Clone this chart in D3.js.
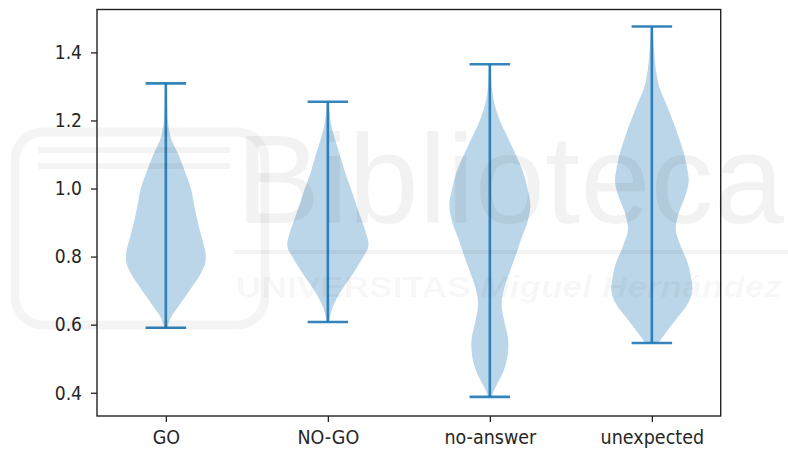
<!DOCTYPE html>
<html>
<head>
<meta charset="utf-8">
<script src="https://cdn.jsdelivr.net/npm/d3@7"></script>
<style>
  html, body { margin: 0; padding: 0; background: #ffffff; }
  svg { display: block; }
</style>
</head>
<body>
<svg id="chart" width="788" height="452"></svg>
<script>
// ---------------- data ----------------
const categories = ["GO", "NO-GO", "no-answer", "unexpected"];
const positions = [1, 2, 3, 4];
const yTicks = [0.4, 0.6, 0.8, 1.0, 1.2, 1.4];
const yTickLabels = ["0.4", "0.6", "0.8", "1.0", "1.2", "1.4"];
const minValues = [0.591, 0.608, 0.388, 0.546];
const maxValues = [1.309, 1.255, 1.365, 1.476];

// density profiles: [value, relative density (1 = widest)]
const goProfile = [
  [1.309, 0.02], [1.25, 0.03], [1.20, 0.05], [1.15, 0.12], [1.10, 0.31],
  [1.05, 0.47], [1.00, 0.62], [0.95, 0.70], [0.90, 0.79], [0.85, 0.90],
  [0.81, 0.98], [0.78, 0.97], [0.75, 0.86], [0.71, 0.64], [0.66, 0.35],
  [0.62, 0.12], [0.591, 0.04]
];
const noGoProfile = [
  [1.255, 0.02], [1.19, 0.08], [1.143, 0.18], [1.094, 0.31], [1.045, 0.43],
  [0.996, 0.58], [0.946, 0.72], [0.898, 0.86], [0.858, 0.97], [0.83, 1.0],
  [0.80, 0.88], [0.75, 0.62], [0.70, 0.33], [0.652, 0.12], [0.608, 0.03]
];
const noAnswerProfile = [
  [1.365, 0.02], [1.295, 0.05], [1.246, 0.12], [1.196, 0.26], [1.148, 0.45],
  [1.099, 0.64], [1.049, 0.82], [1.00, 0.93], [0.951, 1.0], [0.902, 0.93],
  [0.854, 0.78], [0.804, 0.64], [0.755, 0.49], [0.706, 0.35], [0.66, 0.29],
  [0.608, 0.36], [0.559, 0.45], [0.51, 0.44], [0.461, 0.33], [0.412, 0.12],
  [0.388, 0.04]
];
const unexpectedProfile = [
  [1.476, 0.02], [1.398, 0.06], [1.349, 0.10], [1.30, 0.18], [1.25, 0.35],
  [1.201, 0.51], [1.152, 0.66], [1.104, 0.79], [1.054, 0.88], [1.02, 0.91],
  [0.976, 0.82], [0.927, 0.66], [0.878, 0.59], [0.829, 0.72], [0.78, 0.89],
  [0.731, 0.98], [0.70, 1.0], [0.662, 0.89], [0.613, 0.58], [0.574, 0.33],
  [0.546, 0.16]
];
const profiles = [goProfile, noGoProfile, noAnswerProfile, unexpectedProfile];

// ---------------- layout ----------------
const svg = d3.select("#chart");
const W = 788, H = 452;
const plot = { left: 97, right: 720.7, top: 9.5, bottom: 416 };
const violinWidth = 0.5;
const color = "#1f77b4";
const fontFamily = "'DejaVu Sans', sans-serif";

const x = d3.scaleLinear().domain([0.575, 4.425]).range([plot.left, plot.right]);
const y = d3.scaleLinear().domain([0.3317, 1.526]).range([plot.bottom, plot.top]);

svg.append("rect").attr("width", W).attr("height", H).attr("fill", "#ffffff");

const halfW = x(violinWidth / 2) - x(0);

// violin bodies
profiles.forEach((prof, i) => {
  const cx = x(positions[i]);
  const area = d3.area()
    .y(d => y(d[0]))
    .x0(d => cx - d[1] * halfW)
    .x1(d => cx + d[1] * halfW)
    .curve(d3.curveCatmullRom.alpha(0.5));
  svg.append("path")
    .datum(prof)
    .attr("d", area)
    .attr("fill", color)
    .attr("fill-opacity", 0.3)
    .attr("stroke", "none");
});

// bars and caps
const capHalf = x(violinWidth / 4) - x(0);
positions.forEach((p, i) => {
  const cx = x(p);
  const g = svg.append("g").attr("stroke", color).attr("stroke-width", 2.6).attr("stroke-opacity", 0.9);
  g.append("line").attr("x1", cx).attr("x2", cx).attr("y1", y(minValues[i])).attr("y2", y(maxValues[i]));
  g.append("line").attr("x1", cx - capHalf).attr("x2", cx + capHalf).attr("y1", y(maxValues[i])).attr("y2", y(maxValues[i]));
  g.append("line").attr("x1", cx - capHalf).attr("x2", cx + capHalf).attr("y1", y(minValues[i])).attr("y2", y(minValues[i]));
});

// axes
const yAxis = d3.axisLeft(y).tickValues(yTicks).tickFormat((d, i) => yTickLabels[i]).tickSize(6).tickPadding(9);
const gy = svg.append("g").attr("transform", `translate(${plot.left},0)`).call(yAxis);
gy.select(".domain").remove();
gy.selectAll(".tick line").attr("stroke", "#222").attr("stroke-width", 1.3);
gy.selectAll(".tick text")
  .attr("font-family", fontFamily).attr("font-size", 19.5).attr("fill", "#262626")
  .each(function() {
    const t = d3.select(this);
    const xx = +t.attr("x");
    t.attr("x", null).attr("transform", `translate(${xx},0) scale(0.88,1)`);
  });

const xAxis = d3.axisBottom(x).tickValues(positions).tickFormat((d, i) => categories[i]).tickSize(6).tickPadding(8);
const gx = svg.append("g").attr("transform", `translate(0,${plot.bottom})`).call(xAxis);
gx.select(".domain").remove();
gx.selectAll(".tick line").attr("stroke", "#222").attr("stroke-width", 1.3);
gx.selectAll(".tick text")
  .attr("font-family", fontFamily).attr("font-size", 19.5).attr("fill", "#262626")
  .attr("transform", "scale(0.9,1)");

// frame
svg.append("rect")
  .attr("x", plot.left).attr("y", plot.top)
  .attr("width", plot.right - plot.left).attr("height", plot.bottom - plot.top)
  .attr("fill", "none").attr("stroke", "#222").attr("stroke-width", 1.4);

// ---------------- faint watermark overlay ----------------
const wm = svg.append("g").attr("pointer-events", "none");
wm.append("rect").attr("x", 15).attr("y", 132).attr("width", 250).attr("height", 193).attr("rx", 28)
  .attr("fill", "none").attr("stroke", "#000").attr("stroke-opacity", 0.045).attr("stroke-width", 9);
[150, 166].forEach(yy => {
  wm.append("line").attr("x1", 38).attr("x2", 230).attr("y1", yy).attr("y2", yy)
    .attr("stroke", "#000").attr("stroke-opacity", 0.045).attr("stroke-width", 6);
});
wm.append("text").attr("x", 236).attr("y", 223)
  .attr("font-family", "'Liberation Sans', Arial, sans-serif").attr("font-size", 126)
  .attr("textLength", 548).attr("lengthAdjust", "spacingAndGlyphs")
  .attr("fill", "#000").attr("fill-opacity", 0.05).text("Biblioteca");
wm.append("line").attr("x1", 234).attr("x2", 788).attr("y1", 252).attr("y2", 252)
  .attr("stroke", "#000").attr("stroke-opacity", 0.045).attr("stroke-width", 4);
const sub = wm.append("text").attr("x", 236).attr("y", 297)
  .attr("textLength", 546).attr("lengthAdjust", "spacingAndGlyphs")
  .attr("font-size", 29).attr("fill", "#000").attr("fill-opacity", 0.04);
sub.append("tspan").attr("font-family", "'Liberation Sans', Arial, sans-serif").attr("font-weight", "bold")
  .text("UNIVERSITAS ");
sub.append("tspan").attr("font-family", "'Liberation Sans', Arial, sans-serif").attr("font-style", "italic")
  .attr("font-weight", "bold").text("Miguel Hernández");
</script>
</body>
</html>
